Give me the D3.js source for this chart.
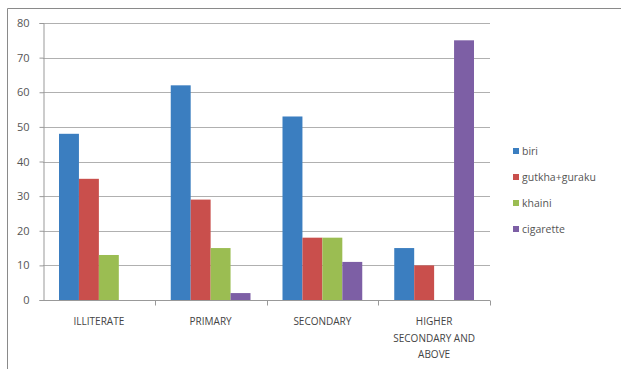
<!DOCTYPE html>
<html><head><meta charset="utf-8">
<script src="https://cdn.jsdelivr.net/npm/d3@7"></script>
<style>body{margin:0;background:#fff}svg{display:block}text{font-family:"Open Sans",sans-serif}</style>
</head><body>
<script>
const categories = ["ILLITERATE", "PRIMARY", "SECONDARY", "HIGHER SECONDARY AND ABOVE"];
const categoryLines = [["ILLITERATE"], ["PRIMARY"], ["SECONDARY"], ["HIGHER", "SECONDARY AND", "ABOVE"]];
const seriesNames = ["biri", "gutkha+guraku", "khaini", "cigarette"];
const biri = [48, 62, 53, 15];
const gutkha = [35, 29, 18, 10];
const khaini = [13, 15, 18, 0];
const cigarette = [0, 2, 11, 75];
const yTicks = [0, 10, 20, 30, 40, 50, 60, 70, 80];
const colors = ["#3b7ec0", "#c94f4c", "#9bbd52", "#7d5fa5"];
const series = [biri, gutkha, khaini, cigarette];

const W = 621, H = 369;
const svg = d3.select("body").append("svg").attr("width", W).attr("height", H);

// outer frame
svg.append("path").attr("d", `M7.5,${H} V8.5 H${W}`).attr("fill", "none").attr("stroke", "#8a8a8a").attr("stroke-width", 1);

const x0 = 43, x1 = 490, yTop = 23, yBot = 300;
const x = d3.scaleBand().domain(categories).range([x0, x1]).paddingInner(0).paddingOuter(0);
const xs = d3.scaleBand().domain(seriesNames).range([16, x.bandwidth() - 16]);
const y = d3.scaleLinear().domain([0, 80]).range([yBot, yTop]);

// gridlines
svg.append("g").selectAll("line").data(yTicks.filter(d => d > 0)).join("line")
  .attr("x1", x0).attr("x2", x1).attr("y1", d => Math.round(y(d)) + 0.5).attr("y2", d => Math.round(y(d)) + 0.5)
  .attr("stroke", "#b0b0b0");

// bars
const g = svg.append("g");
series.forEach((vals, si) => {
  g.selectAll(null).data(categories).join("rect")
    .attr("x", c => x(c) + xs(seriesNames[si]))
    .attr("width", xs.bandwidth())
    .attr("y", (c, i) => y(vals[i]))
    .attr("height", (c, i) => yBot - y(vals[i]))
    .attr("fill", colors[si]);
});

// y axis
const ya = svg.append("g").attr("transform", `translate(${x0 + 0.5},0)`)
  .call(d3.axisLeft(y).tickValues(yTicks).tickSize(4).tickPadding(10));
ya.select(".domain").attr("stroke", "#999");
ya.selectAll(".tick line").attr("stroke", "#999");
ya.selectAll(".tick text").attr("font-size", 11).attr("fill", "#555");

// x axis
const xa = svg.append("g").attr("transform", `translate(0,${yBot + 0.5})`);
xa.append("line").attr("x1", x0).attr("x2", x1).attr("stroke", "#999");
xa.selectAll(null).data(categories.map(c => x(c) + x.bandwidth())).join("line")
  .attr("x1", d => Math.round(d) + 0.5).attr("x2", d => Math.round(d) + 0.5).attr("y1", 0).attr("y2", 5).attr("stroke", "#999");
categories.forEach((c, i) => {
  const t = svg.append("text").attr("text-anchor", "middle").attr("font-size", 10).attr("fill", "#444");
  categoryLines[i].forEach((ln, k) => {
    t.append("tspan").attr("x", x(c) + x.bandwidth() / 2).attr("y", 325 + k * 16.5).text(ln);
  });
});

// legend
const lg = svg.append("g");
seriesNames.forEach((n, i) => {
  const yy = 151 + i * 26;
  lg.append("rect").attr("x", 513).attr("y", yy - 3).attr("width", 6).attr("height", 6).attr("fill", colors[i]);
  lg.append("text").attr("x", 522).attr("y", yy + 3.5).attr("font-size", 10.5).attr("fill", "#555").text(n);
});
</script>
</body></html>
